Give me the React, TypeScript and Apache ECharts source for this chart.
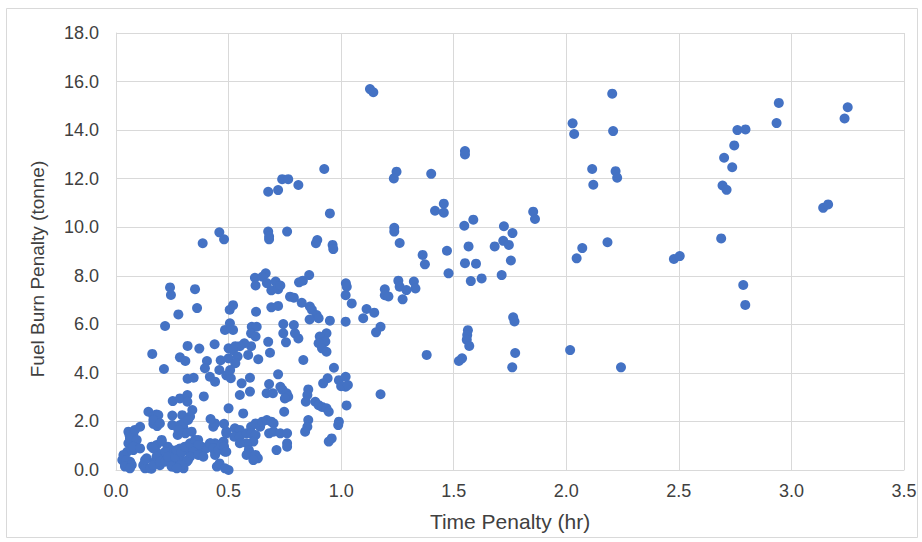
import React, { useEffect, useRef } from "react";
import * as echarts from "echarts";

// [time penalty (hr), fuel burn penalty (tonne)]
const nearOrigin: [number, number][] = [
  [0.24, 7.52], [0.244, 7.21], [0.351, 7.45], [0.36, 6.67], [0.277, 6.41], [0.218, 5.93],
  [0.161, 4.78], [0.213, 4.16], [0.318, 5.11], [0.37, 5.0], [0.284, 4.64], [0.308, 4.49],
  [0.318, 3.76], [0.345, 3.8], [0.39, 3.03], [0.438, 5.18], [0.404, 4.49], [0.395, 4.19],
  [0.465, 4.52], [0.417, 3.84], [0.44, 3.64], [0.459, 4.12], [0.484, 5.77], [0.505, 6.6],
  [0.5, 5.01], [0.5, 4.6], [0.5, 2.54], [0.252, 2.84], [0.284, 2.95], [0.317, 3.09],
  [0.317, 2.81], [0.339, 2.47], [0.294, 2.26], [0.329, 2.2], [0.25, 2.24], [0.25, 1.85],
  [0.284, 1.85], [0.3, 1.72], [0.308, 1.51], [0.274, 1.44], [0.144, 2.4], [0.166, 2.22],
  [0.18, 2.29], [0.166, 1.9], [0.183, 1.81], [0.107, 1.78], [0.055, 1.58], [0.06, 1.44],
  [0.077, 1.44], [0.055, 1.1], [0.07, 1.1], [0.085, 1.1], [0.077, 0.82], [0.05, 0.75],
  [0.033, 0.62], [0.028, 0.41], [0.04, 0.21], [0.063, 0.34], [0.063, 0.14], [0.121, 0.2],
  [0.136, 0.48], [0.129, 0.07], [0.158, 0.05], [0.158, 0.96], [0.18, 1.03], [0.203, 1.17],
  [0.185, 0.69], [0.172, 0.34], [0.195, 0.2], [0.21, 0.41], [0.225, 0.69], [0.23, 0.96],
  [0.245, 0.82], [0.26, 0.75], [0.285, 0.89], [0.285, 0.62], [0.26, 0.41], [0.255, 0.14],
  [0.29, 0.34], [0.31, 0.82], [0.325, 1.03], [0.35, 0.96], [0.365, 1.24], [0.38, 0.96],
  [0.375, 0.69], [0.335, 0.69], [0.32, 0.41], [0.3, 0.07], [0.4, 0.89], [0.42, 1.1],
  [0.44, 1.1], [0.44, 0.75], [0.432, 1.78], [0.44, 1.92], [0.477, 1.17], [0.48, 0.82],
  [0.448, 0.14], [0.46, 0.27], [0.5, 0.0], [0.42, 2.1], [0.48, 1.9],
];

const denseCore: [number, number][] = [
  [0.188, 2.26], [0.166, 2.06], [0.195, 1.92], [0.299, 1.92], [0.277, 1.65], [0.32, 2.06],
  [0.336, 1.58], [0.084, 1.65], [0.062, 1.3], [0.092, 1.24], [0.077, 0.96], [0.107, 0.89],
  [0.047, 0.41], [0.04, 0.14], [0.07, 0.21], [0.062, 0.07], [0.129, 0.41], [0.151, 0.07],
  [0.166, 0.21], [0.166, 0.89], [0.203, 1.24], [0.218, 0.75], [0.18, 0.55], [0.195, 0.34],
  [0.218, 0.34], [0.232, 0.55], [0.247, 0.14], [0.262, 0.55], [0.27, 0.82], [0.29, 0.75],
  [0.306, 0.96], [0.329, 1.1], [0.351, 1.24], [0.365, 1.03], [0.343, 0.75], [0.329, 0.55],
  [0.365, 0.62], [0.388, 0.55], [0.314, 0.34], [0.29, 0.21], [0.27, 0.07], [0.417, 1.1],
  [0.432, 0.89], [0.44, 0.62], [0.454, 0.82], [0.469, 1.03], [0.484, 0.75], [0.484, 0.07],
  [0.49, 1.58],
];

const midLow: [number, number][] = [
  [0.69, 7.4], [0.72, 7.45], [0.773, 7.14], [0.79, 7.1], [0.825, 6.89], [0.861, 6.73],
  [0.87, 6.6], [0.891, 6.38], [0.9, 6.25], [0.86, 6.2], [0.95, 6.15], [1.02, 6.11],
  [1.02, 7.2], [0.52, 6.79], [0.622, 6.52], [0.69, 6.7], [0.72, 6.76], [0.506, 6.04],
  [0.52, 5.77], [0.603, 5.9], [0.625, 5.9], [0.6, 5.63], [0.62, 5.5], [0.743, 6.01],
  [0.743, 5.63], [0.755, 5.26], [0.79, 5.97], [0.795, 5.63], [0.81, 5.42], [0.935, 5.63],
  [0.905, 5.5], [0.93, 5.29], [0.9, 5.22], [0.915, 5.01], [0.935, 4.87], [0.676, 5.28],
  [0.684, 4.83], [0.6, 5.1], [0.587, 4.74], [0.57, 5.22], [0.55, 5.1], [0.53, 5.1],
  [0.52, 4.94], [0.54, 4.67], [0.53, 4.4], [0.632, 4.56], [0.832, 4.53], [0.507, 4.12],
  [0.49, 3.9], [0.51, 3.78], [0.968, 4.21], [0.94, 3.78], [0.92, 3.57], [0.99, 3.7],
  [1.02, 3.84], [1.02, 3.43], [0.72, 3.94], [0.595, 3.8], [0.558, 3.57], [0.595, 3.23],
  [0.55, 3.09], [0.68, 3.54], [0.669, 3.16], [0.697, 3.16], [0.73, 3.43], [0.74, 3.3],
  [0.758, 3.16], [0.765, 3.02], [0.75, 2.95], [0.854, 3.32], [0.85, 3.09], [0.843, 2.81],
  [0.885, 2.81], [0.9, 2.67], [0.915, 2.6], [0.935, 2.54], [0.945, 2.4], [0.565, 2.33],
  [0.747, 2.4], [0.854, 2.06], [0.85, 1.78], [0.84, 1.58], [0.987, 1.85], [0.99, 1.99],
  [0.958, 1.3], [0.945, 1.17], [0.49, 1.51], [0.528, 1.72], [0.55, 1.65], [0.525, 1.37],
  [0.55, 1.37], [0.58, 1.51], [0.6, 1.78], [0.62, 1.92], [0.64, 1.78], [0.65, 1.99],
  [0.67, 2.06], [0.69, 1.99], [0.7, 1.92], [0.6, 1.51], [0.62, 1.44], [0.61, 1.17],
  [0.58, 1.1], [0.55, 1.1], [0.59, 0.82], [0.595, 0.69], [0.58, 0.62], [0.62, 0.62],
  [0.63, 0.48], [0.61, 0.41], [0.48, 0.96], [0.49, 0.75], [0.68, 1.51], [0.7, 1.58],
  [0.73, 1.51], [0.76, 1.51], [0.713, 0.82], [0.76, 1.1], [0.76, 0.96],
];

const midHigh: [number, number][] = [
  [0.925, 12.4], [0.738, 11.98], [0.765, 11.98], [0.81, 11.74], [0.72, 11.53], [0.676, 11.46],
  [0.95, 10.57], [0.459, 9.79], [0.48, 9.5], [0.385, 9.34], [0.676, 9.82], [0.68, 9.62],
  [0.68, 9.5], [0.76, 9.82], [0.894, 9.47], [0.888, 9.34], [0.962, 9.27], [0.965, 9.1],
  [0.617, 7.92], [0.62, 7.6], [0.665, 8.1], [0.65, 7.96], [0.67, 7.7], [0.709, 7.76],
  [0.73, 7.6], [0.813, 7.73], [0.83, 7.8], [0.858, 8.03], [1.021, 7.69], [1.025, 7.55],
];

const oneToTwoHr: [number, number][] = [
  [1.128, 15.69], [1.143, 15.56], [1.55, 13.14], [1.55, 13.0], [1.246, 12.29], [1.234, 12.01],
  [1.4, 12.2], [1.456, 10.97], [1.417, 10.68], [1.456, 10.6], [1.853, 10.64], [1.861, 10.34],
  [1.547, 10.06], [1.587, 10.31], [1.723, 10.04], [1.761, 9.76], [1.236, 9.98], [1.236, 9.82],
  [1.26, 9.35], [1.362, 8.86], [1.372, 8.47], [1.47, 9.03], [1.566, 9.21], [1.682, 9.21],
  [1.72, 9.44], [1.745, 9.27], [1.754, 8.63], [1.55, 8.52], [1.599, 8.5], [1.477, 8.1],
  [1.576, 7.78], [1.624, 7.89], [1.713, 8.03], [1.194, 7.44], [1.254, 7.8], [1.26, 7.55],
  [1.323, 7.76], [1.33, 7.48], [1.29, 7.41], [1.047, 6.86], [1.194, 7.2], [1.21, 7.15],
  [1.273, 7.03], [1.113, 6.63], [1.147, 6.48], [1.098, 6.25], [1.175, 5.9], [1.155, 5.67],
  [1.38, 4.74], [1.563, 5.76], [1.56, 5.56], [1.558, 5.37], [1.569, 5.11], [1.523, 4.49],
  [1.537, 4.6], [1.764, 6.29], [1.77, 6.12], [1.773, 4.82], [1.76, 4.23], [1.0, 3.45],
  [1.03, 3.5], [1.175, 3.12], [1.024, 2.66],
];

const overTwoHr: [number, number][] = [
  [2.028, 14.28], [2.035, 13.84], [2.204, 15.5], [2.208, 13.96], [2.115, 12.4], [2.12, 11.75],
  [2.219, 12.31], [2.226, 12.04], [2.071, 9.14], [2.046, 8.72], [2.183, 9.38], [2.017, 4.94],
  [2.243, 4.23], [2.478, 8.69], [2.504, 8.81], [2.944, 15.12], [2.934, 14.29], [3.25, 14.94],
  [3.236, 14.48], [2.76, 14.0], [2.796, 14.03], [2.746, 13.37], [2.701, 12.86], [2.737, 12.47],
  [2.694, 11.72], [2.712, 11.54], [3.141, 10.8], [3.163, 10.94], [2.688, 9.54], [2.786, 7.62],
  [2.795, 6.8],
];

const xTitle = "Time Penalty (hr)";
const yTitle = "Fuel Burn Penalty (tonne)";

export default function App() {
  const ref = useRef<HTMLDivElement>(null);
  useEffect(() => {
    if (!ref.current) return;
    const chart = echarts.init(ref.current, null, { renderer: "svg" });
    const font = "Liberation Sans, Arial, sans-serif";
    const gridColor = "#d9d9d9";
    const labelColor = "#404040";
    chart.setOption({
      animation: false,
      backgroundColor: "#ffffff",
      grid: { left: 116, right: 18, top: 33, bottom: 72 },
      xAxis: {
        type: "value",
        min: 0,
        max: 3.5,
        interval: 0.5,
        axisLine: { show: true, lineStyle: { color: gridColor, width: 1 } },
        axisTick: { show: false },
        splitLine: { show: true, showMinLine: true, showMaxLine: true, lineStyle: { color: gridColor, width: 1 } },
        axisLabel: { color: labelColor, fontSize: 18, fontFamily: font, margin: 12, formatter: (v: number) => v.toFixed(1) },
      },
      yAxis: {
        type: "value",
        min: 0,
        max: 18,
        interval: 2,
        axisLine: { show: true, lineStyle: { color: gridColor, width: 1 } },
        axisTick: { show: false },
        splitLine: { show: true, showMinLine: true, showMaxLine: true, lineStyle: { color: gridColor, width: 1 } },
        axisLabel: { color: labelColor, fontSize: 18, fontFamily: font, margin: 17, formatter: (v: number) => v.toFixed(1) },
      },
      graphic: [
        {
          type: "rect",
          shape: { x: 6.5, y: 8.5, width: 911, height: 529 },
          style: { fill: "none", stroke: gridColor, lineWidth: 1 },
          silent: true,
          z: -1,
        },
        {
          type: "text",
          x: 510,
          y: 521,
          style: { text: xTitle, fill: labelColor, font: `21px ${font}`, textAlign: "center", textVerticalAlign: "middle" },
        },
        {
          type: "text",
          x: 37,
          y: 269,
          rotation: Math.PI / 2,
          style: { text: yTitle, fill: labelColor, font: `19px ${font}`, textAlign: "center", textVerticalAlign: "middle" },
        },
      ],
      series: [
        {
          type: "scatter",
          symbol: "circle",
          symbolSize: 10,
          itemStyle: { color: "#4472C4", opacity: 1 },
          data: [...nearOrigin, ...denseCore, ...midLow, ...midHigh, ...oneToTwoHr, ...overTwoHr],
        },
      ],
    });
    return () => chart.dispose();
  }, []);
  return <div ref={ref} style={{ position: "fixed", left: 0, top: 0, width: 922, height: 542 }} />;
}
